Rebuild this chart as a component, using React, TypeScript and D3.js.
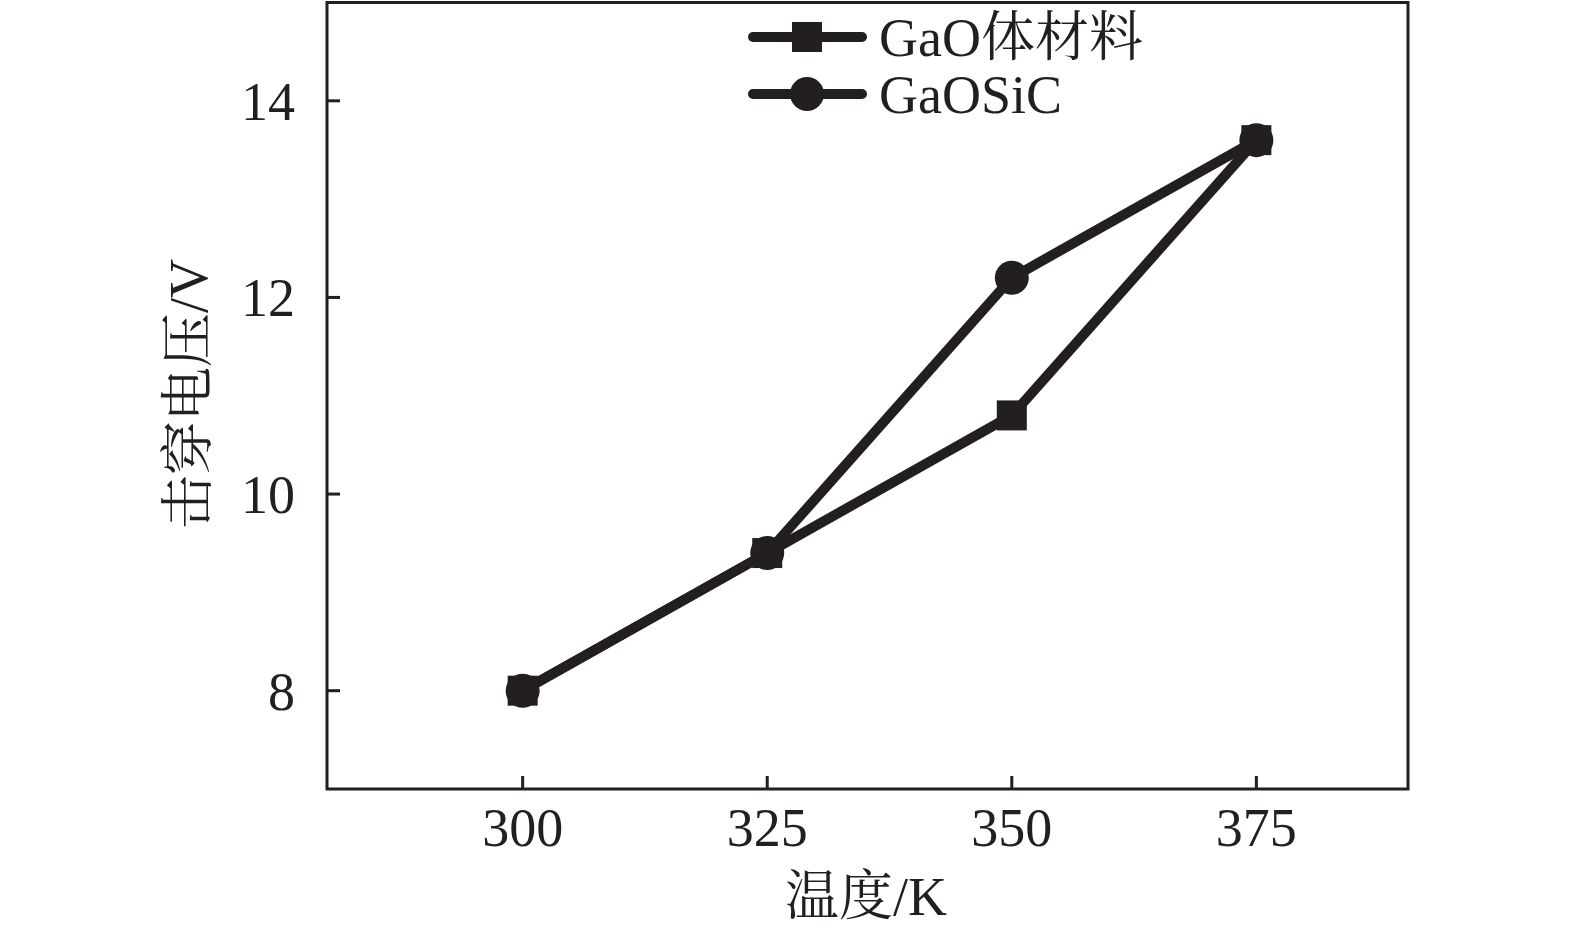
import React from 'react';
import * as d3 from 'd3';

const temps = [300, 325, 350, 375];
const bulkValues = [8.0, 9.4, 10.8, 13.6];
const sicValues = [8.0, 9.4, 12.2, 13.6];
const xTicks = [300, 325, 350, 375];
const yTicks = [8, 10, 12, 14];
const seriesNames = ['GaO体材料', 'GaOSiC'];

const W = 1575;
const H = 937;
const ink = '#231f20';
const font = '"Liberation Serif", "Times New Roman", "Noto Serif CJK SC", "Noto Sans CJK SC", serif';

const App: React.FC = () => {
  const x = d3.scaleLinear().domain([280, 390.5]).range([327, 1408]);
  const y = d3.scaleLinear().domain([7, 15]).range([789, 2.5]);

  const line = d3.line<number>()
    .x((_, i) => x(temps[i]))
    .y(d => y(d));

  const sq = 30;
  const r = 17;

  return (
    <svg width={W} height={H} style={{ position: 'absolute', left: 0, top: 0, background: '#fff' }}
      fontFamily={font}>
      {/* frame */}
      <rect x={x(280)} y={y(15)} width={x(390.5) - x(280)} height={y(7) - y(15)}
        fill="none" stroke={ink} strokeWidth={3} />

      {/* ticks, pointing inward */}
      {xTicks.map(t => (
        <g key={'x' + t}>
          <line x1={x(t)} x2={x(t)} y1={y(7)} y2={y(7) - 13} stroke={ink} strokeWidth={3} />
          <text x={x(t)} y={y(7) + 57} textAnchor="middle" fontSize={54} fill={ink}>{t}</text>
        </g>
      ))}
      {yTicks.map(t => (
        <g key={'y' + t}>
          <line x1={x(280)} x2={x(280) + 13} y1={y(t)} y2={y(t)} stroke={ink} strokeWidth={3} />
          <text x={x(280) - 32} y={y(t)} dy="0.35em" textAnchor="end" fontSize={54} fill={ink}>{t}</text>
        </g>
      ))}

      {/* axis titles */}
      <text x={866} y={915} textAnchor="middle" fontSize={54} fill={ink}>温度/K</text>
      <text transform="translate(188, 394) rotate(-90)" textAnchor="middle" dy="0.35em"
        fontSize={54} fill={ink}>击穿电压/V</text>

      {/* GaOSiC series */}
      <path d={line(sicValues) || ''} fill="none" stroke={ink} strokeWidth={10} strokeLinejoin="round" />
      {sicValues.map((v, i) => (
        <circle key={'c' + i} cx={x(temps[i])} cy={y(v)} r={r} fill={ink} />
      ))}

      {/* GaO bulk series */}
      <path d={line(bulkValues) || ''} fill="none" stroke={ink} strokeWidth={10} strokeLinejoin="round" />
      {bulkValues.map((v, i) => (
        <rect key={'s' + i} x={x(temps[i]) - sq / 2} y={y(v) - sq / 2} width={sq} height={sq} fill={ink} />
      ))}

      {/* legend */}
      <g>
        <line x1={753} x2={862} y1={37} y2={37} stroke={ink} strokeWidth={10} strokeLinecap="round" />
        <rect x={807 - sq / 2} y={37 - sq / 2} width={sq} height={sq} fill={ink} />
        <text x={879} y={37} dy="0.35em" fontSize={54} fill={ink}>{seriesNames[0]}</text>
        <line x1={753} x2={862} y1={94} y2={94} stroke={ink} strokeWidth={10} strokeLinecap="round" />
        <circle cx={807} cy={94} r={r} fill={ink} />
        <text x={879} y={94} dy="0.35em" fontSize={54} fill={ink}>{seriesNames[1]}</text>
      </g>
    </svg>
  );
};

export default App;
